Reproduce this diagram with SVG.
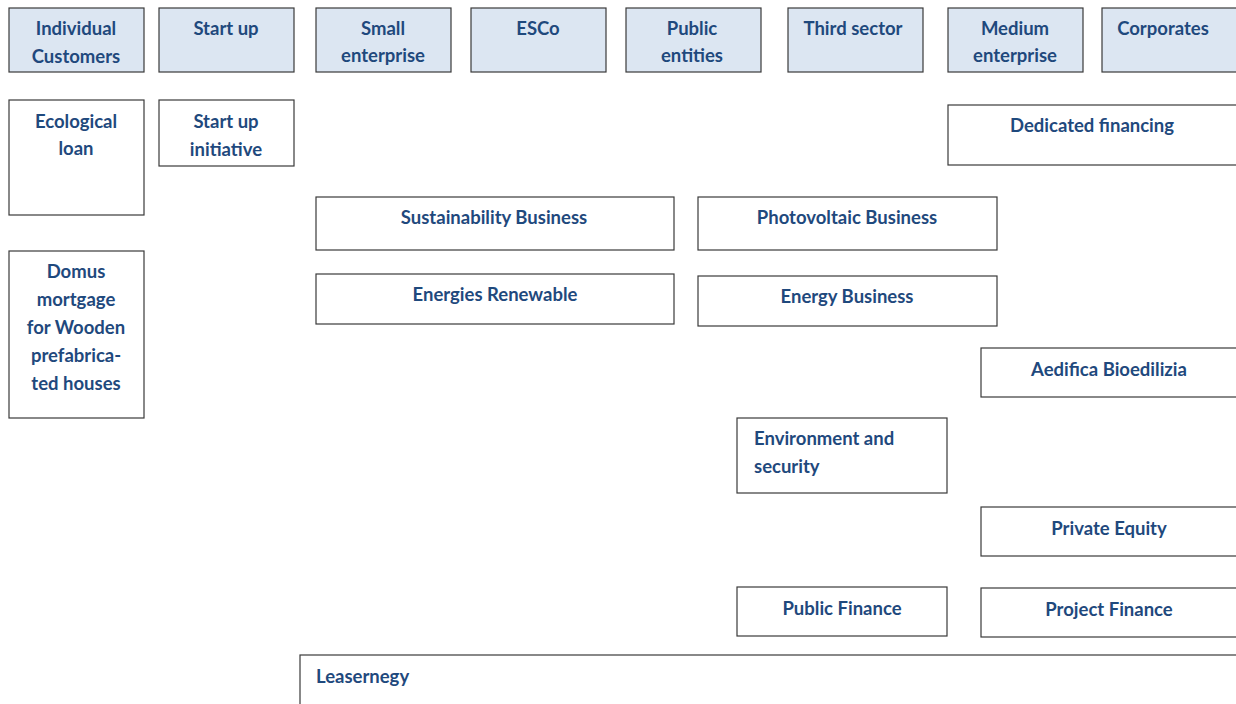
<svg xmlns="http://www.w3.org/2000/svg" width="1236" height="704" viewBox="0 0 1236 704">
<style>
.h{fill:#dce6f2;stroke:#3a3a3a;stroke-width:1.2}
.b{fill:#ffffff;stroke:#3a3a3a;stroke-width:1.2}
text{font-family:Lato,"Open Sans","Liberation Sans",sans-serif;font-weight:bold;font-size:18.5px;fill:#1f497d;dominant-baseline:central}
.c{text-anchor:middle}
</style>
<rect width="1236" height="704" fill="#ffffff"/>
<g id="connectors"></g>
<g id="individual-customers"><rect class="h" x="9" y="8" width="135" height="64"/><text class="c" x="76" y="28">Individual</text><text class="c" x="76" y="56">Customers</text></g>
<g id="start-up"><rect class="h" x="159" y="8" width="135" height="64"/><text class="c" x="226" y="28">Start up</text></g>
<g id="small-enterprise"><rect class="h" x="316" y="8" width="135" height="64"/><text class="c" x="383" y="28">Small</text><text class="c" x="383" y="55">enterprise</text></g>
<g id="esco"><rect class="h" x="471" y="8" width="135" height="64"/><text class="c" x="538" y="28">ESCo</text></g>
<g id="public-entities"><rect class="h" x="626" y="8" width="135" height="64"/><text class="c" x="692" y="28">Public</text><text class="c" x="692" y="55">entities</text></g>
<g id="third-sector"><rect class="h" x="788" y="8" width="135" height="64"/><text class="c" x="853" y="28">Third sector</text></g>
<g id="medium-enterprise"><rect class="h" x="948" y="8" width="135" height="64"/><text class="c" x="1015" y="28">Medium</text><text class="c" x="1015" y="55">enterprise</text></g>
<g id="corporates"><rect class="h" x="1102" y="8" width="140" height="64"/><text class="c" x="1163" y="28">Corporates</text></g>
<g id="ecological-loan"><rect class="b" x="9" y="100" width="135" height="115"/><text class="c" x="76" y="121">Ecological</text><text class="c" x="76" y="148">loan</text></g>
<g id="start-up-initiative"><rect class="b" x="159" y="100" width="135" height="66"/><text class="c" x="226" y="121">Start up</text><text class="c" x="226" y="149">initiative</text></g>
<g id="dedicated-financing"><rect class="b" x="948" y="105" width="294" height="60"/><text class="c" x="1092" y="125">Dedicated financing</text></g>
<g id="sustainability-business"><rect class="b" x="316" y="197" width="358" height="53"/><text class="c" x="494" y="217">Sustainability Business</text></g>
<g id="photovoltaic-business"><rect class="b" x="698" y="197" width="299" height="53"/><text class="c" x="847" y="217">Photovoltaic Business</text></g>
<g id="energies-renewable"><rect class="b" x="316" y="274" width="358" height="50"/><text class="c" x="495" y="294">Energies Renewable</text></g>
<g id="energy-business"><rect class="b" x="698" y="276" width="299" height="50"/><text class="c" x="847" y="296">Energy Business</text></g>
<g id="domus-mortgage"><rect class="b" x="9" y="251" width="135" height="167"/><text class="c" x="76" y="271">Domus</text><text class="c" x="76" y="299">mortgage</text><text class="c" x="76" y="327">for Wooden</text><text class="c" x="76" y="355">prefabrica-</text><text class="c" x="76" y="383">ted houses</text></g>
<g id="aedifica-bioedilizia"><rect class="b" x="981" y="348" width="261" height="49"/><text class="c" x="1109" y="369">Aedifica Bioedilizia</text></g>
<g id="environment-security"><rect class="b" x="737" y="418" width="210" height="75"/><text x="754" y="438">Environment and</text><text x="754" y="466">security</text></g>
<g id="private-equity"><rect class="b" x="981" y="507" width="261" height="49"/><text class="c" x="1109" y="528">Private Equity</text></g>
<g id="public-finance"><rect class="b" x="737" y="587" width="210" height="49"/><text class="c" x="842" y="608">Public Finance</text></g>
<g id="project-finance"><rect class="b" x="981" y="588" width="261" height="49"/><text class="c" x="1109" y="609">Project Finance</text></g>
<g id="leasernegy"><rect class="b" x="300" y="655" width="942" height="60"/><text x="316" y="676">Leasernegy</text></g>
</svg>
